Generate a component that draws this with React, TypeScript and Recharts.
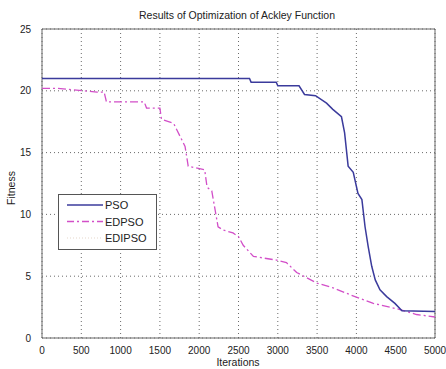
import * as React from "react";
import {
  LineChart,
  Line,
  XAxis,
  YAxis,
  CartesianGrid,
  ReferenceArea,
} from "recharts";

// values
const psoIter = [0, 2640, 2660, 2980, 3000, 3270, 3340, 3480, 3620, 3700, 3810, 3850, 3895, 3960, 4020, 4070, 4110, 4150, 4195, 4240, 4300, 4385, 4490, 4580, 5000];
const psoFit = [21.0, 21.0, 20.7, 20.7, 20.4, 20.4, 19.7, 19.6, 19.0, 18.5, 17.9, 16.6, 13.9, 13.4, 11.7, 11.2, 9.0, 7.4, 5.8, 4.7, 3.9, 3.35, 2.8, 2.2, 2.15];

const edpsoIter = [0, 200, 700, 790, 820, 1300, 1330, 1500, 1520, 1660, 1680, 1820, 1860, 2070, 2100, 2160, 2240, 2300, 2430, 2500, 2560, 2690, 2985, 3110, 3240, 3495, 3705, 3920, 4215, 4555, 4765, 5000];
const edpsoFit = [20.2, 20.2, 19.9, 19.9, 19.1, 19.1, 18.6, 18.6, 17.7, 17.4, 17.3, 15.5, 13.9, 13.6, 12.2, 11.9, 9.0, 8.75, 8.5, 8.2, 7.5, 6.6, 6.3, 6.1, 5.3, 4.45, 4.05, 3.5, 2.8, 2.3, 1.9, 1.7];

const xTicks = [0, 500, 1000, 1500, 2000, 2500, 3000, 3500, 4000, 4500, 5000];
const yTicks = [0, 5, 10, 15, 20, 25];

const seriesNames = ["PSO", "EDPSO", "EDIPSO"];

const FONT = "'Liberation Sans', Arial, sans-serif";
const PSO_COLOR = "#3b3b9c";
const EDPSO_COLOR = "#d24fc8";
const EDIPSO_COLOR = "#e6d8cc";

function LegendBox() {
  const styles = [
    { stroke: PSO_COLOR, dash: undefined, w: 1.6 },
    { stroke: EDPSO_COLOR, dash: "7 3 2 3", w: 1.4 },
    { stroke: EDIPSO_COLOR, dash: "1 2", w: 1.2 },
  ];
  return (
    <svg width={100} height={57} style={{ position: "absolute", left: 58, top: 194 }}>
      <rect x={0.5} y={0.5} width={98} height={55} fill="#fff" stroke="#555" />
      {seriesNames.map((n, i) => (
        <g key={n}>
          <line
            x1={9}
            x2={45}
            y1={11 + i * 16.5}
            y2={11 + i * 16.5}
            stroke={styles[i].stroke}
            strokeWidth={styles[i].w}
            strokeDasharray={styles[i].dash}
          />
          <text x={47} y={15 + i * 16.5} fontSize={11} fontFamily={FONT} fill="#222">
            {n}
          </text>
        </g>
      ))}
    </svg>
  );
}

export default function App() {
  const psoData = psoIter.map((x, i) => ({ x, y: psoFit[i] }));
  const edpsoData = edpsoIter.map((x, i) => ({ x, y: edpsoFit[i] }));

  return (
    <div style={{ position: "absolute", left: 0, top: 0, width: 446, height: 369, background: "#fff" }}>
      <LineChart width={446} height={369} margin={{ top: 29, right: 11, bottom: 11, left: 12 }}>
        <CartesianGrid stroke="#444" strokeDasharray="1 3" strokeWidth={0.8} />
        <XAxis
          type="number"
          dataKey="x"
          domain={[0, 5000]}
          ticks={xTicks}
          allowDataOverflow
          height={20}
          tickLine={false}
          axisLine={false}
          tickMargin={3}
          tick={{ fontSize: 10, fontFamily: FONT, fill: "#222" }}
        />
        <YAxis
          type="number"
          dataKey="y"
          domain={[0, 25]}
          ticks={yTicks}
          width={30}
          tickLine={false}
          axisLine={false}
          tickMargin={5}
          tick={{ fontSize: 10, fontFamily: FONT, fill: "#222" }}
        />
        <ReferenceArea x1={0} x2={5000} y1={0} y2={25} fill="none" fillOpacity={0} stroke="#666" strokeWidth={1} />
        <Line
          data={edpsoData}
          dataKey="y"
          name="EDPSO"
          type="linear"
          stroke={EDPSO_COLOR}
          strokeWidth={1.3}
          strokeDasharray="8 3 2 3"
          dot={false}
          isAnimationActive={false}
        />
        <Line
          data={psoData}
          dataKey="y"
          name="PSO"
          type="linear"
          stroke={PSO_COLOR}
          strokeWidth={1.5}
          dot={false}
          isAnimationActive={false}
        />
        <text x={237} y={19} textAnchor="middle" fontSize={10.5} fontFamily={FONT} fill="#222">
          Results of Optimization of Ackley Function
        </text>
        <text x={238} y={366} textAnchor="middle" fontSize={10.5} fontFamily={FONT} fill="#222">
          Iterations
        </text>
        <text
          x={15}
          y={188}
          textAnchor="middle"
          fontSize={10.5}
          fontFamily={FONT}
          fill="#222"
          transform="rotate(-90 15 188)"
        >
          Fitness
        </text>
      </LineChart>
      <LegendBox />
    </div>
  );
}
